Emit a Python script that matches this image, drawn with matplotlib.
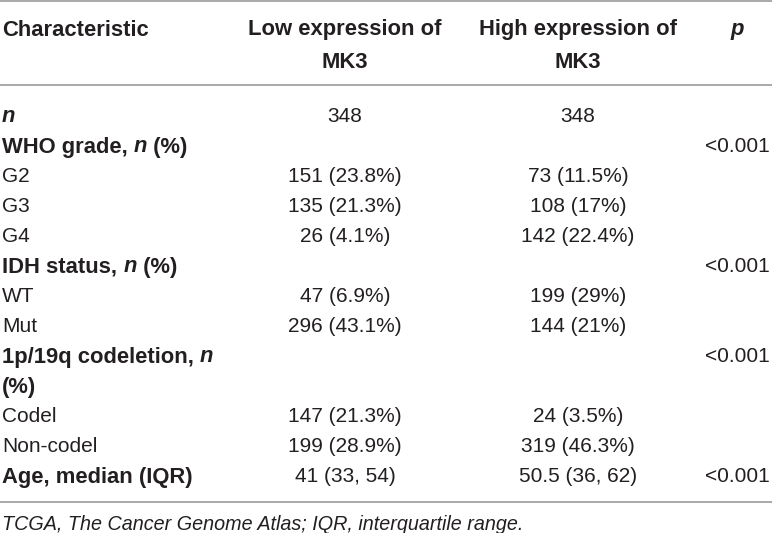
import matplotlib.pyplot as plt

plt.rcParams['font.family'] = ['Liberation Sans', 'DejaVu Sans']

W, H = 772, 533
INK = '#231f20'
RULE = '#9b9b9b'

# header cells, each is a list of lines
headers = [
  [[('Characteristic', 'b')]],
  [[('Low expression of', 'b')], [('MK3', 'b')]],
  [[('High expression of', 'b')], [('MK3', 'b')]],
  [[('p', 'bi')]],
]

# row labels as runs of (text, style): r regular, b bold, bi bold italic
row_labels = [
  [('n', 'bi')],
  [('WHO grade, ', 'b'), ('n', 'bi'), (' (%)', 'b')],
  [('G2', 'r')],
  [('G3', 'r')],
  [('G4', 'r')],
  [('IDH status, ', 'b'), ('n', 'bi'), (' (%)', 'b')],
  [('WT', 'r')],
  [('Mut', 'r')],
  [('1p/19q codeletion, ', 'b'), ('n', 'bi')],
  [('(%)', 'b')],
  [('Codel', 'r')],
  [('Non-codel', 'r')],
  [('Age, median (IQR)', 'b')],
]
low_mk3 = ['348', '', '151 (23.8%)', '135 (21.3%)', '26 (4.1%)', '', '47 (6.9%)',
           '296 (43.1%)', '', '', '147 (21.3%)', '199 (28.9%)', '41 (33, 54)']
high_mk3 = ['348', '', '73 (11.5%)', '108 (17%)', '142 (22.4%)', '', '199 (29%)',
            '144 (21%)', '', '', '24 (3.5%)', '319 (46.3%)', '50.5 (36, 62)']
p_values = ['', '<0.001', '', '', '', '<0.001', '', '', '<0.001', '', '', '', '<0.001']
footnote = 'TCGA, The Cancer Genome Atlas; IQR, interquartile range.'

STYLES = {
  'r': dict(fontweight='normal', fontstyle='normal', fontsize=15),
  'b': dict(fontweight='bold', fontstyle='normal', fontsize=15.8),
  'bi': dict(fontweight='bold', fontstyle='italic', fontsize=15.8),
  'i': dict(fontweight='normal', fontstyle='italic', fontsize=14.2),
}

fig = plt.figure(figsize=(W / 100, H / 100), dpi=100)
ax = fig.add_axes([0, 0, 1, 1])
ax.set_xlim(0, W)
ax.set_ylim(H, 0)
ax.axis('off')
renderer = fig.canvas.get_renderer()

def runs(x, y, parts, ha='left'):
  # draw runs left to right, measure to place the next piece
  widths = []
  texts = []
  for s, st in parts:
    t = ax.text(0, y, s, color=INK, va='baseline', ha='left', **STYLES[st])
    widths.append(t.get_window_extent(renderer).width)
    texts.append(t)
  total = sum(widths)
  cx = x - total / 2 if ha == 'center' else x
  for t, w in zip(texts, widths):
    t.set_x(cx)
    cx += w

col_x = [2, 345, 578, 737]
cap = 7.5

# header
for cx, lines in zip(col_x, headers):
  for k, line in enumerate(lines):
    runs(cx, 28 + 32 * k + cap, line, ha='left' if cx == col_x[0] else 'center')

ax.plot([0, W], [1, 1], color=RULE, lw=1.2)
ax.plot([0, W], [85, 85], color=RULE, lw=1.2)

y0, pitch = 115, 30
for i, lab in enumerate(row_labels):
  y = y0 + i * pitch + cap
  runs(col_x[0], y, lab)
  for cx, col in zip(col_x[1:], (low_mk3, high_mk3, p_values)):
    if col[i]:
      runs(cx, y, [(col[i], 'r')], ha='center')

ax.plot([0, W], [502, 502], color=RULE, lw=1.2)
runs(2, 523 + 7, [(footnote, 'i')])

fig.savefig('out.png', dpi=100)
